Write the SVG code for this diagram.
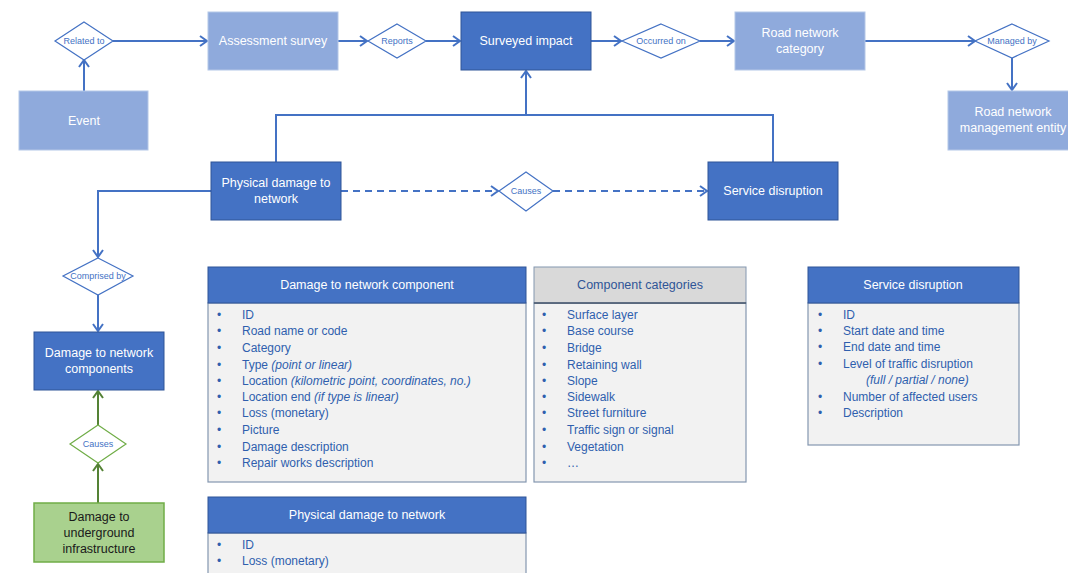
<svg xmlns="http://www.w3.org/2000/svg" width="1068" height="573" viewBox="0 0 1068 573">
  <defs>
    <style>
      text { font-family: "Liberation Sans", Arial, sans-serif; }
      .light { fill: #8faadc; stroke: #b4c7e7; stroke-width: 1; }
      .dark { fill: #4472c4; stroke: #2f5597; stroke-width: 1; }
      .green { fill: #a9d18e; stroke: #70ad47; stroke-width: 1.5; }
      .ntext { fill: #ffffff; font-size: 12.5px; text-anchor: middle; dominant-baseline: central; }
      .gtext { fill: #1a1a1a; font-size: 12.5px; text-anchor: middle; dominant-baseline: central; }
      .dia { fill: #ffffff; stroke: #4472c4; stroke-width: 1.2; }
      .dia-g { fill: #ffffff; stroke: #70ad47; stroke-width: 1.2; }
      .dtext { fill: #4472c4; font-size: 9px; text-anchor: middle; dominant-baseline: central; }
      .con { fill: none; stroke: #4472c4; stroke-width: 2; }
      .con-d { fill: none; stroke: #4472c4; stroke-width: 2; stroke-dasharray: 7 5; }
      .con-g { fill: none; stroke: #548235; stroke-width: 2; }
      .thead { fill: #4472c4; stroke: #2f5597; stroke-width: 1; }
      .thead-g { fill: #d9d9d9; stroke: #8497b0; stroke-width: 1; }
      .tbody { fill: #f2f2f2; stroke: #8497b0; stroke-width: 1.2; }
      .htext { fill: #ffffff; font-size: 12.5px; text-anchor: middle; dominant-baseline: central; }
      .htext-g { fill: #2f5597; font-size: 12.5px; text-anchor: middle; dominant-baseline: central; }
      .item { fill: #2f5fae; font-size: 12px; dominant-baseline: central; }
      .it { font-style: italic; }
    </style>
    <marker id="arr" markerUnits="userSpaceOnUse" markerWidth="12" markerHeight="12" refX="9" refY="6" orient="auto">
      <path d="M2,1 L9,6 L2,11" fill="none" stroke="#4472c4" stroke-width="2"/>
    </marker>
    <marker id="arr-g" markerUnits="userSpaceOnUse" markerWidth="12" markerHeight="12" refX="9" refY="6" orient="auto">
      <path d="M2,1 L9,6 L2,11" fill="none" stroke="#548235" stroke-width="2"/>
    </marker>
  </defs>

  <rect width="1068" height="573" fill="#ffffff"/>

  <!-- connectors -->
  <g id="connectors">
    <line class="con" x1="84" y1="91" x2="84" y2="60" marker-end="url(#arr)"/>
    <line class="con" x1="113" y1="41" x2="207" y2="41" marker-end="url(#arr)"/>
    <line class="con" x1="338" y1="41" x2="367" y2="41" marker-end="url(#arr)"/>
    <line class="con" x1="426" y1="41" x2="460" y2="41" marker-end="url(#arr)"/>
    <line class="con" x1="591" y1="41" x2="621" y2="41" marker-end="url(#arr)"/>
    <line class="con" x1="700" y1="41" x2="734" y2="41" marker-end="url(#arr)"/>
    <line class="con" x1="865" y1="41" x2="975" y2="41" marker-end="url(#arr)"/>
    <line class="con" x1="1012" y1="58" x2="1012" y2="90" marker-end="url(#arr)"/>
    <path class="con" d="M276,162 V115 H773 V162"/>
    <line class="con" x1="526" y1="115" x2="526" y2="71" marker-end="url(#arr)"/>
    <line class="con-d" x1="341" y1="191" x2="498" y2="191" marker-end="url(#arr)"/>
    <line class="con-d" x1="553" y1="191" x2="707" y2="191" marker-end="url(#arr)"/>
    <path class="con" d="M211,191 H98 V257" marker-end="url(#arr)"/>
    <line class="con" x1="98" y1="295" x2="98" y2="331" marker-end="url(#arr)"/>
    <line class="con-g" x1="98" y1="503" x2="98" y2="464" marker-end="url(#arr-g)"/>
    <line class="con-g" x1="98" y1="425" x2="98" y2="391" marker-end="url(#arr-g)"/>
  </g>

  <!-- entity nodes -->
  <g id="event">
    <rect class="light" x="19" y="91" width="129" height="59"/>
    <text class="ntext" x="84" y="121">Event</text>
  </g>
  <g id="assessment-survey">
    <rect class="light" x="208" y="12" width="130" height="58"/>
    <text class="ntext" x="273" y="41">Assessment survey</text>
  </g>
  <g id="surveyed-impact">
    <rect class="dark" x="461" y="12" width="130" height="58"/>
    <text class="ntext" x="526" y="41">Surveyed impact</text>
  </g>
  <g id="road-network-category">
    <rect class="light" x="735" y="12" width="130" height="58"/>
    <text class="ntext" x="800" y="33">Road network</text>
    <text class="ntext" x="800" y="49">category</text>
  </g>
  <g id="management-entity">
    <rect class="light" x="948" y="91" width="130" height="59"/>
    <text class="ntext" x="1013" y="112">Road network</text>
    <text class="ntext" x="1013" y="128">management entity</text>
  </g>
  <g id="physical-damage">
    <rect class="dark" x="211" y="162" width="130" height="58"/>
    <text class="ntext" x="276" y="183">Physical damage to</text>
    <text class="ntext" x="276" y="199">network</text>
  </g>
  <g id="service-disruption">
    <rect class="dark" x="708" y="162" width="130" height="58"/>
    <text class="ntext" x="773" y="191">Service disruption</text>
  </g>
  <g id="damage-components">
    <rect class="dark" x="34" y="332" width="130" height="58"/>
    <text class="ntext" x="99" y="353">Damage to network</text>
    <text class="ntext" x="99" y="369">components</text>
  </g>
  <g id="underground">
    <rect class="green" x="34" y="503" width="130" height="59"/>
    <text class="gtext" x="99" y="517">Damage to</text>
    <text class="gtext" x="99" y="533">underground</text>
    <text class="gtext" x="99" y="549">infrastructure</text>
  </g>

  <!-- relationship diamonds -->
  <g id="rel-related-to">
    <polygon class="dia" points="84,22 113,41 84,60 55,41"/>
    <text class="dtext" x="84" y="41">Related to</text>
  </g>
  <g id="rel-reports">
    <polygon class="dia" points="397,24 426,41 397,58 368,41"/>
    <text class="dtext" x="397" y="41">Reports</text>
  </g>
  <g id="rel-occurred-on">
    <polygon class="dia" points="661,24 700,41 661,58 622,41"/>
    <text class="dtext" x="661" y="41">Occurred on</text>
  </g>
  <g id="rel-managed-by">
    <polygon class="dia" points="1012,24 1049,41 1012,58 975,41"/>
    <text class="dtext" x="1012" y="41">Managed by</text>
  </g>
  <g id="rel-causes">
    <polygon class="dia" points="526,172 553,191 526,211 499,191"/>
    <text class="dtext" x="526" y="191">Causes</text>
  </g>
  <g id="rel-comprised-by">
    <polygon class="dia" points="98,258 133,276 98,295 63,276"/>
    <text class="dtext" x="98" y="276">Comprised by</text>
  </g>
  <g id="rel-causes-green">
    <polygon class="dia-g" points="98,425 126,444 98,463 70,444"/>
    <text class="dtext" x="98" y="444">Causes</text>
  </g>

  <!-- attribute table: damage to network component -->
  <g id="table-damage-component">
    <rect class="tbody" x="208" y="303" width="318" height="179"/>
    <rect class="thead" x="208" y="267" width="318" height="36"/>
    <text class="htext" x="367" y="285">Damage to network component</text>
    <g class="item">
      <text x="217" y="315">•</text><text x="242" y="315">ID</text>
      <text x="217" y="331">•</text><text x="242" y="331">Road name or code</text>
      <text x="217" y="348">•</text><text x="242" y="348">Category</text>
      <text x="217" y="365">•</text><text x="242" y="365">Type <tspan class="it">(point or linear)</tspan></text>
      <text x="217" y="381">•</text><text x="242" y="381">Location <tspan class="it">(kilometric point, coordinates, no.)</tspan></text>
      <text x="217" y="397">•</text><text x="242" y="397">Location end <tspan class="it">(if type is linear)</tspan></text>
      <text x="217" y="413">•</text><text x="242" y="413">Loss (monetary)</text>
      <text x="217" y="430">•</text><text x="242" y="430">Picture</text>
      <text x="217" y="447">•</text><text x="242" y="447">Damage description</text>
      <text x="217" y="463">•</text><text x="242" y="463">Repair works description</text>
    </g>
  </g>

  <!-- attribute table: component categories -->
  <g id="table-categories">
    <rect class="tbody" x="534" y="303" width="212" height="179"/>
    <rect class="thead-g" x="534" y="267" width="212" height="36"/>
    <line x1="534" y1="303" x2="746" y2="303" stroke="#44546a" stroke-width="1.5"/>
    <text class="htext-g" x="640" y="285">Component categories</text>
    <g class="item">
      <text x="542" y="315">•</text><text x="567" y="315">Surface layer</text>
      <text x="542" y="331">•</text><text x="567" y="331">Base course</text>
      <text x="542" y="348">•</text><text x="567" y="348">Bridge</text>
      <text x="542" y="365">•</text><text x="567" y="365">Retaining wall</text>
      <text x="542" y="381">•</text><text x="567" y="381">Slope</text>
      <text x="542" y="397">•</text><text x="567" y="397">Sidewalk</text>
      <text x="542" y="413">•</text><text x="567" y="413">Street furniture</text>
      <text x="542" y="430">•</text><text x="567" y="430">Traffic sign or signal</text>
      <text x="542" y="447">•</text><text x="567" y="447">Vegetation</text>
      <text x="542" y="463">•</text><text x="567" y="463">…</text>
    </g>
  </g>

  <!-- attribute table: service disruption -->
  <g id="table-service-disruption">
    <rect class="tbody" x="808" y="303" width="211" height="142"/>
    <rect class="thead" x="808" y="267" width="211" height="36"/>
    <text class="htext" x="913" y="285">Service disruption</text>
    <g class="item">
      <text x="818" y="315">•</text><text x="843" y="315">ID</text>
      <text x="818" y="331">•</text><text x="843" y="331">Start date and time</text>
      <text x="818" y="347">•</text><text x="843" y="347">End date and time</text>
      <text x="818" y="364">•</text><text x="843" y="364">Level of traffic disruption</text>
      <text x="866" y="380" class="it">(full / partial / none)</text>
      <text x="818" y="397">•</text><text x="843" y="397">Number of affected users</text>
      <text x="818" y="413">•</text><text x="843" y="413">Description</text>
    </g>
  </g>

  <!-- attribute table: physical damage to network -->
  <g id="table-physical-damage">
    <rect class="tbody" x="208" y="533" width="318" height="45"/>
    <rect class="thead" x="208" y="497" width="318" height="36"/>
    <text class="htext" x="367" y="515">Physical damage to network</text>
    <g class="item">
      <text x="217" y="545">•</text><text x="242" y="545">ID</text>
      <text x="217" y="561">•</text><text x="242" y="561">Loss (monetary)</text>
    </g>
  </g>
</svg>
